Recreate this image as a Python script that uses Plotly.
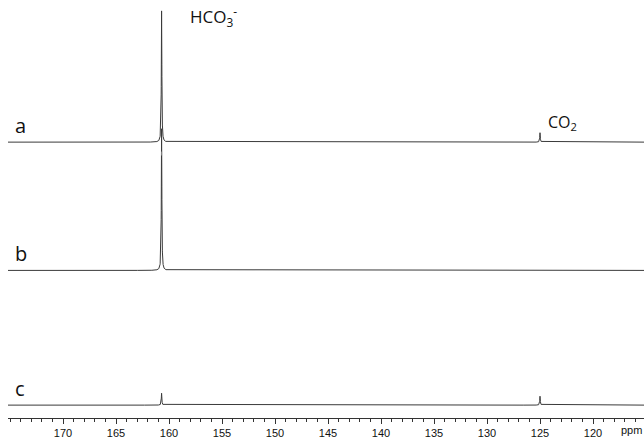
import numpy as np
import plotly.graph_objects as go

# Peak data (chemical shift in ppm, relative intensity)
trace_names = ["a", "b", "c"]
peak_ppm = [[160.7, 125.0], [160.7], [160.7, 125.0]]
peak_height = [[132.5, 9.5], [143.0], [12.0, 9.0]]
tick_vals = [170, 165, 160, 155, 150, 145, 140, 135, 130, 125, 120]
tick_text = [str(v) for v in tick_vals]

# stacking offsets (layout)
offsets = [278.5, 149.0, 13.0]
gamma = 0.03
ppm = np.linspace(115.0, 175.5, 12101)

fig = go.Figure()
for name, pos, hts, off in zip(trace_names, peak_ppm, peak_height, offsets):
    y = np.full_like(ppm, off)
    for p, h in zip(pos, hts):
        y += h * gamma**2 / ((ppm - p) ** 2 + gamma**2)
    fig.add_trace(go.Scatter(x=ppm, y=y, mode="lines", name=name,
                             line=dict(color="#3a3a3a", width=1), showlegend=False,
                             hoverinfo="skip"))

# trace labels
for name, off in zip(trace_names, offsets):
    fig.add_annotation(x=174.75, y=off + 17, xref="x", yref="y", text=name,
                       showarrow=False, font=dict(family="Open Sans", size=20, color="#111"),
                       xanchor="left", yanchor="middle")

fig.add_annotation(x=158.2, y=405, xref="x", yref="y", text="HCO<sub>3</sub><sup>-</sup>",
                   showarrow=False, font=dict(family="Open Sans", size=17, color="#111"),
                   xanchor="left", yanchor="middle")
fig.add_annotation(x=124.4, y=298, xref="x", yref="y", text="CO<sub>2</sub>",
                   showarrow=False, font=dict(family="Open Sans", size=16, color="#111"),
                   xanchor="left", yanchor="middle")
fig.add_annotation(x=1.0, y=-0.028, xref="paper", yref="paper", text="ppm",
                   showarrow=False, font=dict(family="Liberation Sans", size=11, color="#111"),
                   xanchor="right", yanchor="middle")

# small marker below the main peak of trace a
fig.add_shape(type="line", x0=160.7, x1=160.7, y0=265, y1=269, xref="x", yref="y",
              line=dict(color="#888", width=1))

fig.update_layout(
    width=644, height=439,
    margin=dict(l=8, r=0, t=0, b=17),
    paper_bgcolor="white", plot_bgcolor="white",
    xaxis=dict(range=[175.19, 115.19], showgrid=False, zeroline=False,
               showline=True, linecolor="#333", linewidth=1,
               ticks="outside", ticklen=5, tickcolor="#333", tickwidth=1,
               tickvals=tick_vals, ticktext=tick_text,
               minor=dict(dtick=1, ticks="outside", ticklen=3, tickcolor="#333", tickwidth=1),
               tickfont=dict(family="Liberation Sans", size=11, color="#111")),
    yaxis=dict(range=[0, 422], visible=False, showgrid=False, zeroline=False),
)

fig.write_html("out.html", config={"displayModeBar": False},
               post_script="document.body.style.margin='0';document.body.style.overflow='hidden';")
